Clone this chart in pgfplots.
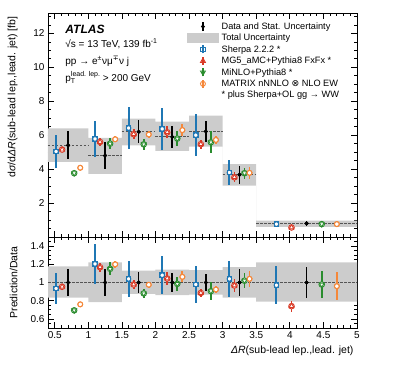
\documentclass[border=0pt]{standalone}
\usepackage{pgfplots}
\usepackage{pgfplotstable}
\pgfplotsset{compat=1.18}
\usepackage{fontspec}
\setmainfont{Liberation Sans}
\newfontfamily\dejavu{DejaVu Sans}

\definecolor{cblue}{HTML}{1F77B4}
\definecolor{cred}{HTML}{D93A26}
\definecolor{cgreen}{HTML}{2A8C2E}
\definecolor{corange}{HTML}{F5883A}
\definecolor{bandgray}{HTML}{CCCCCC}
\definecolor{dashgray}{HTML}{555555}

% upper panel: value and uncertainty per bin
\pgfplotstableread{
x     y     e
0.52  5.04  0.95
1.1   5.78  1.07
1.6   6.42  1.22
2.1   6.37  1.26
2.6   6.0   1.25
3.1   3.8   0.75
3.8   0.76  0.17
}\sherpaTop
\pgfplotstableread{
x     y     e
0.61  5.15  0.17
1.175 5.6   0.24
1.675 6.06  0.28
2.175 6.17  0.35
2.675 5.47  0.27
3.175 3.52  0.3
4.025 0.56  0.05
}\mgTop
\pgfplotstableread{
x     y     e
0.79  3.76  0.11
1.325 5.5   0.33
1.825 5.46  0.31
2.325 5.8   0.45
2.825 5.58  0.65
3.325 3.76  0.32
4.475 0.76  0.12
}\minloTop
\pgfplotstableread{
x     y     e
0.88  4.08  0.08
1.4   5.76  0.19
1.9   6.04  0.19
2.4   6.3   0.33
2.9   5.72  0.25
3.4   3.78  0.36
4.7   0.76  0.12
}\mtxTop
\pgfplotstableread{
x     y     e
0.7   5.4   0.82
1.25  4.8   0.77
1.75  6.2   0.67
2.25  5.9   0.65
2.75  6.22  0.63
3.25  3.67  0.54
4.25  0.8   0.13
}\dataTop

% lower panel: prediction / data
\pgfplotstableread{
x     y     e
0.52  0.934 0.17
1.1   1.204 0.22
1.6   1.04  0.2
2.1   1.08  0.21
2.6   0.978 0.2
3.1   1.04  0.2
3.8   0.97  0.21
}\sherpaRat
\pgfplotstableread{
x     y     e
0.61  0.953 0.03
1.175 1.168 0.05
1.675 0.978 0.045
2.175 1.044 0.07
2.675 0.885 0.045
3.175 0.967 0.07
4.025 0.74  0.06
}\mgRat
\pgfplotstableread{
x     y     e
0.79  0.694 0.02
1.325 1.15  0.07
1.825 0.88  0.05
2.325 0.985 0.08
2.825 0.905 0.1
3.325 1.02  0.08
4.475 0.978 0.15
}\minloRat
\pgfplotstableread{
x     y     e
0.88  0.76  0.015
1.4   1.20  0.04
1.9   0.975 0.03
2.4   1.062 0.06
2.9   0.923 0.04
3.4   1.04  0.09
4.7   0.96  0.15
}\mtxRat
\pgfplotstableread{
x     y     e
0.7   1     0.15
1.25  1     0.147
1.75  1     0.11
2.25  1     0.105
2.75  1     0.097
3.25  1     0.145
4.25  1     0.165
}\dataRat

\tikzset{
  sherpa/.style={color=cblue, mark=square, mark size=2.3pt, mark options={fill=white, line width=0.9pt, solid}},
  mg/.style={color=cred, mark=triangle, mark size=2.8pt, mark options={fill=white, line width=0.9pt, solid}},
  minlo/.style={color=cgreen, mark=triangle, mark size=2.8pt, mark options={fill=white, line width=0.9pt, rotate=180, solid}},
  mtx/.style={color=corange, mark=o, mark size=2.5pt, mark options={fill=white, line width=0.9pt, solid}},
  dat/.style={color=black, mark=*, mark size=1.8pt},
  dashline/.style={dashgray, line width=0.9pt, dash pattern=on 2.5pt off 1.5pt},
}

\pgfplotsset{
  atlas/.style={
    scale only axis, width=309pt,
    xmin=0.4, xmax=5,
    xtick={0.5,1,...,5},
    minor xtick={0.4,0.5,...,5.01},
    tick align=inside,
    major tick length=6pt, minor tick length=3pt,
    every tick/.style={black, line width=0.7pt},
    axis line style={line width=0.8pt},
    tick label style={font=\fontsize{10}{12}\selectfont},
    /pgf/number format/assume math mode=true,
    unbounded coords=jump,
  },
  errs/.style={error bars/.cd, y dir=both, y explicit, error mark=none, error bar style={line width=#1}},
  legdata/.style={legend image code/.code={
    \draw[black, line width=1.6pt] (15.5pt,-4.5pt) -- (15.5pt,4.5pt);
    \draw[dat, only marks] plot coordinates {(15.5pt,0pt)};}},
  legband/.style={legend image code/.code={
    \fill[bandgray] (0pt,-4.5pt) rectangle (31pt,4.5pt);}},
  legpred/.style={legend image code/.code={
    \draw[#1, line width=1.8pt] (15.5pt,-4pt) -- (15.5pt,4pt);
    \draw[#1, only marks] plot coordinates {(15.5pt,0pt)};}},
  legnone/.style={legend image code/.code={\path[draw=none, fill=none] (0pt,-4.5pt) rectangle (31pt,4.5pt);}},
}

% error bars first, then the open marker on top of them
\newcommand{\series}[3]{%
  \addplot[forget plot, only marks, #1, mark=none, errs=#2] table[x=x, y=y, y error=e] {#3};
  \addplot[forget plot, only marks, #1] table[x=x, y=y] {#3};}

\begin{document}
\begin{tikzpicture}
\path[use as bounding box] (0,0) rectangle (407pt,365pt);

% ---------------- upper panel: cross section ----------------
\begin{axis}[atlas,
  at={(48pt,128pt)}, anchor=south west, height=224pt,
  ymin=0, ymax=13.2,
  ytick={2,4,...,12}, minor ytick={0.5,1,...,13},
  xticklabels={},
  ylabel={d\textit{σ}/d\textit{ΔR}(sub-lead lep.,lead. jet) [fb]},
  ylabel style={font=\fontsize{10.5}{12}\selectfont, at={(axis description cs:-0.087,1.0)}, anchor=south east},
  legend style={at={(axis description cs:0.45,0.972)}, anchor=north west, draw=none, fill=none,
    font=\fontsize{9.2}{11}\selectfont, row sep=-2.7pt, inner sep=0pt,
    nodes={inner sep=3pt}},
  legend cell align=left,
]
% total uncertainty
\addplot[forget plot, fill=bandgray, draw=none] coordinates {
  (0.4,6.40)(1,6.40)(1,5.84)(1.5,5.84)(1.5,6.97)(2,6.97)(2,6.80)(2.5,6.80)
  (2.5,7.15)(3,7.15)(3,4.30)(3.5,4.30)(3.5,0.97)(5,0.97)
  (5,0.60)(3.5,0.60)(3.5,3.03)(3,3.03)(3,5.32)(2.5,5.32)(2.5,5.08)(2,5.08)
  (2,5.40)(1.5,5.40)(1.5,3.72)(1,3.72)(1,4.43)(0.4,4.43)} -- cycle;
% data level per bin
\addplot[forget plot, dashline] coordinates {
  (0.4,5.4)(1,5.4)(1,nan)(1,4.8)(1.5,4.8)(1.5,nan)(1.5,6.2)(2,6.2)(2,nan)
  (2,5.9)(2.5,5.9)(2.5,nan)(2.5,6.22)(3,6.22)(3,nan)(3,3.67)(3.5,3.67)(3.5,nan)
  (3.5,0.8)(5,0.8)};
\series{sherpa}{2.2pt}{\sherpaTop}
\series{mg}{1.8pt}{\mgTop}
\series{minlo}{1.8pt}{\minloTop}
\series{mtx}{1.8pt}{\mtxTop}
\series{dat}{1.6pt}{\dataTop}

\addlegendimage{legdata}
\addlegendentry{Data and Stat. Uncertainty}
\addlegendimage{legband}
\addlegendentry{Total Uncertainty}
\addlegendimage{legpred=sherpa}
\addlegendentry{Sherpa 2.2.2 *}
\addlegendimage{legpred=mg}
\addlegendentry{MG5\_aMC+Pythia8 FxFx *}
\addlegendimage{legpred=minlo}
\addlegendentry{MiNLO+Pythia8 *}
\addlegendimage{legpred=mtx}
\addlegendentry{MATRIX nNNLO {\dejavu ⊗} NLO EW}
\addlegendimage{legnone}
\addlegendentry{* plus Sherpa+OL gg → WW}

\node[anchor=west, font=\fontsize{12}{12}\selectfont\bfseries\itshape] at (axis description cs:0.045,0.929) {ATLAS};
\node[anchor=west, font=\fontsize{10}{12}\selectfont] at (axis description cs:0.045,0.862) {√s = 13 TeV, 139 fb\textsuperscript{-1}};
\node[anchor=west, font=\fontsize{10}{12}\selectfont] at (axis description cs:0.045,0.783) {pp → e\textsuperscript{±}νμ\textsuperscript{{\dejavu ∓}}ν j};
\node[anchor=west, font=\fontsize{10}{12}\selectfont] at (axis description cs:0.045,0.71) {p\makebox[0pt][l]{\raisebox{-2.5pt}{\fontsize{7}{7}\selectfont T}}\raisebox{4.5pt}{\fontsize{7}{7}\selectfont lead. lep.}\ > 200 GeV};
\end{axis}

% ---------------- lower panel: ratio ----------------
\begin{axis}[atlas,
  at={(48pt,37pt)}, anchor=south west, height=91pt,
  ymin=0.5, ymax=1.5,
  ytick={0.6,0.8,1,1.2,1.4}, minor ytick={0.5,0.55,...,1.51},
  xlabel={\textit{ΔR}(sub-lead lep.,lead. jet)},
  xlabel style={font=\fontsize{10.5}{12}\selectfont, at={(axis description cs:1,-0.16)}, anchor=north east},
  ylabel={Prediction/Data},
  ylabel style={font=\fontsize{10.5}{12}\selectfont, at={(axis description cs:-0.087,0.5)}, anchor=south},
]
\addplot[forget plot, fill=bandgray, draw=none] coordinates {
  (0.4,1.178)(1,1.178)(1,1.222)(1.5,1.222)(1.5,1.131)(2,1.131)(2,1.142)(2.5,1.142)
  (2.5,1.135)(3,1.135)(3,1.17)(3.5,1.17)(3.5,1.22)(5,1.22)
  (5,0.79)(3.5,0.79)(3.5,0.835)(3,0.835)(3,0.866)(2.5,0.866)(2.5,0.86)(2,0.86)
  (2,0.876)(1.5,0.876)(1.5,0.785)(1,0.785)(1,0.833)(0.4,0.833)} -- cycle;
\addplot[forget plot, dashline] coordinates {(0.4,1)(5,1)};
\series{sherpa}{2.2pt}{\sherpaRat}
\series{mg}{1.8pt}{\mgRat}
\series{minlo}{1.8pt}{\minloRat}
\series{mtx}{1.8pt}{\mtxRat}
\series{dat}{1.6pt}{\dataRat}
\end{axis}
\end{tikzpicture}
\end{document}
